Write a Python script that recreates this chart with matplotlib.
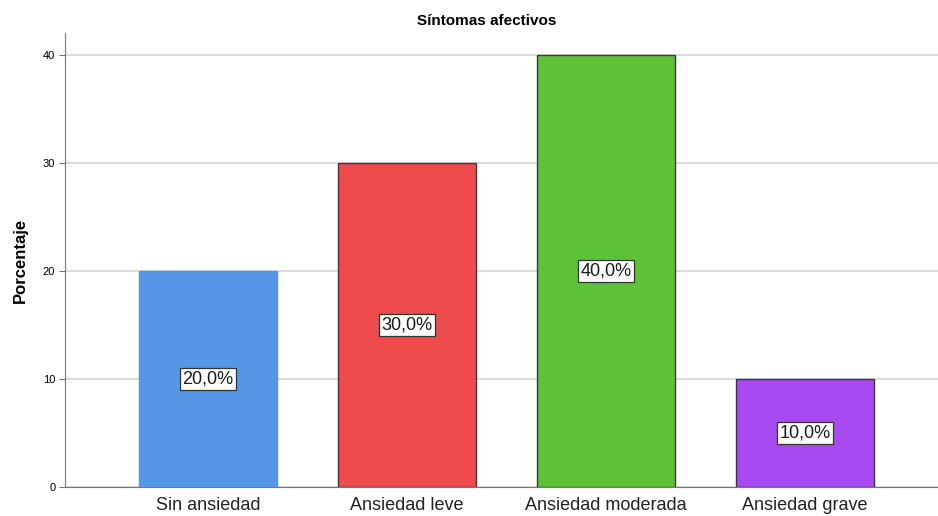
import matplotlib
matplotlib.use("Agg")
import matplotlib.pyplot as plt

plt.rcParams['font.family'] = ['Liberation Sans', 'DejaVu Sans']

categorias = ['Sin ansiedad', 'Ansiedad leve', 'Ansiedad moderada', 'Ansiedad grave']
porcentajes = [20.0, 30.0, 40.0, 10.0]
colores = ['#5597E6', '#EE4B4C', '#5EC237', '#A84AF2']
bordes = ['#5597E6', '#3a3a3a', '#3a3a3a', '#3a3a3a']

fig = plt.figure(figsize=(9.38, 5.16), dpi=100)
ax = fig.add_axes([0.0693, 0.0562, 0.9307, 0.8798])

x = range(len(categorias))
ax.bar(x, porcentajes, width=0.693, color=colores, edgecolor=bordes,
       linewidth=1.0, zorder=3)

# etiquetas de porcentaje dentro de cada barra
for xi, v in zip(x, porcentajes):
    ax.text(xi, v / 2, f"{v:.1f}%".replace('.', ','), ha='center', va='center',
            fontsize=13, color='#1a1a1a', zorder=4,
            bbox=dict(boxstyle='square,pad=0.12', facecolor='white',
                      edgecolor='#333333', linewidth=0.9))

ax.set_xlim(-0.7186, 3.668)
ax.set_ylim(0, 42.04)
ax.set_yticks([0, 10, 20, 30, 40])
ax.set_xticks(list(x))
ax.set_xticklabels(categorias, fontsize=13, color='#222222')
ax.tick_params(axis='y', labelsize=8, length=4, color='#777777', pad=3)
ax.tick_params(axis='x', length=0, pad=7)

ax.yaxis.grid(True, color='#d4d4d4', linewidth=1.2, zorder=0)
ax.set_axisbelow(True)
for s in ['top', 'right']:
    ax.spines[s].set_visible(False)
ax.spines['left'].set_color('#777777')
ax.spines['bottom'].set_color('#777777')

ax.set_ylabel('Porcentaje', fontsize=12, fontweight='bold', labelpad=11)
ax.set_title('Síntomas afectivos', fontsize=11, fontweight='bold', pad=6, x=0.483)

fig.savefig('out.png', dpi=100)
